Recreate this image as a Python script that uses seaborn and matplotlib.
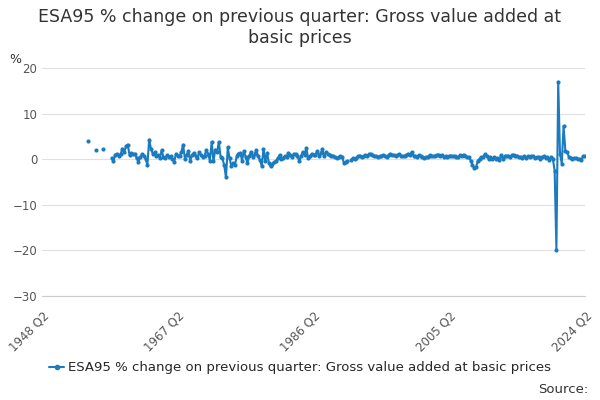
import numpy as np
import pandas as pd
import matplotlib
matplotlib.use('Agg')
import matplotlib.pyplot as plt
import seaborn as sns
from matplotlib.lines import Line2D

nan = np.nan
# Quarterly values from 1948 Q2 to 2024 Q2
early = [nan] * 26 + [4.0] + [nan] * 3 + [2.1] + [nan] * 3 + [2.2] + [nan] * 4
from_1958 = [
    0.3, -0.5, 1.0, 1.2, 0.8, 1.1, 2.3, 1.5, 2.8, 3.2, 0.9, 1.3,
    1.1, 1.2, 0.2, -0.6, 0.4, 1.1, 0.8, 0.1, -1.2, 4.3, 2.3, 1.2,
    1.5, 0.6, 0.9, 0.3, 2.0, 0.4, 0.2, 0.9, 0.5, 0.7, 0.1, -0.6,
    1.2, 0.8, 0.6, 1.6, 3.2, 0.1, 1.0, 1.8, -0.3, 0.9, 1.4, 0.7,
    0.2, 1.5, 1.0, 0.4, 0.8, 2.0, 1.1, -0.3, 3.8, -0.5, 2.1, 1.5,
    3.8, 0.5, 0.2, -1.3,
    -4.0, 2.6, 0.2, -1.5, -0.8, -1.3, 0.6, 1.2, 1.4, -0.3, 1.8, 0.5,
    -0.9, 0.7, 1.6, 0.4, 1.1, 2.0, 0.6, -0.2, -1.5, 2.2, -0.5, 1.4,
    -0.8, -1.6, -1.0, -0.7, -0.4, 0.2, 0.9, 0.1, 0.3, 0.6, 0.5, 1.4,
    1.0, 0.5, 1.2, 1.1, 0.8, -0.4, 0.6, 1.6, 0.9, 2.4, 0.3, 0.6,
    1.2, 0.9, 1.0, 1.7, 0.8, 1.3, 2.2, 0.6, 1.6, 1.1, 1.0, 0.7,
    0.8, 0.4, 0.3, 0.4, 0.7, 0.5, -0.8, -0.6, -0.4, nan, -0.2, 0.2,
    0.1, 0.3, 0.6, 0.8, 0.5, 0.7, 0.9, 0.8, 1.1, 1.2, 0.9, 0.8,
    0.7, 0.5, 0.6, 0.7, 0.9, 0.8, 0.5, 0.9, 1.2, 1.0, 0.9, 0.7,
    0.9, 1.1, 0.8, 0.6, 0.7, 0.9, 1.2, 1.0, 1.6, 0.8, 0.6, 0.5,
    0.9, 0.6, 0.4, 0.3, 0.4, 0.5, 0.9, 0.7, 0.6, 0.8, 1.0, 1.0,
    0.7, 0.9, 0.4, 0.6, 0.5, 0.7, 0.8, 0.6, 0.7, 0.5, 0.4, 0.9,
    0.8, 1.0, 0.7, 0.5, 0.4, -0.3, -1.2, -2.0, -1.8, -0.3, 0.1, 0.4,
    0.5, 1.1, 0.7, 0.1, 0.5, 0.1, 0.4, 0.0, 0.2, -0.2, 0.9, 0.0,
    0.6, 0.6, 0.8, 0.5, 0.9, 1.0, 0.6, 0.8, 0.4, 0.5, 0.3, 0.7,
    0.3, 0.6, 0.5, 0.7, 0.6, 0.3, 0.4, 0.5, 0.1, 0.5, 0.7, 0.2,
    0.5, -0.1, 0.5, 0.1, -2.5, -20.0, 17.0, 1.2, -1.0, 7.3, 1.8, 1.5,
    0.5, 0.3, 0.0, 0.2, 0.3, 0.1, 0.0, -0.2, 0.7, 0.6,
]
values = early + from_1958
tick_labels = ['1948 Q2', '1967 Q2', '1986 Q2', '2005 Q2', '2024 Q2']
series_name = 'ESA95 % change on previous quarter: Gross value added at basic prices'

df = pd.DataFrame({'q': np.arange(len(values)), 'v': values})
df['seg'] = df['v'].isna().cumsum()
df = df.dropna()

color = '#1b7bbf'
sns.set_style('white')
plt.rcParams['font.family'] = ['DejaVu Sans']
fig, ax = plt.subplots(figsize=(6, 4), dpi=100)
sns.lineplot(data=df, x='q', y='v', units='seg', estimator=None, color=color,
             lw=1.5, marker='o', markersize=3, markeredgewidth=0, ax=ax)

ax.set_xlim(0, len(values) - 1)
ax.set_ylim(-30, 20)
ax.set_yticks(range(-30, 21, 10))
ax.set_xticks([0, 76, 152, 228, 304])
ax.set_xticklabels(tick_labels, rotation=45, ha='right', rotation_mode='anchor')
ax.tick_params(axis='x', length=6, color='#cccccc', labelsize=8.5, colors='#555555')
ax.tick_params(axis='y', length=0, labelsize=8.5, colors='#555555')
ax.yaxis.grid(True, color='#e0e0e0', lw=0.8)
for s in ['top', 'right', 'left']:
    ax.spines[s].set_visible(False)
ax.spines['bottom'].set_color('#cccccc')
ax.set_xlabel('')
ax.set_ylabel('')
ax.text(-0.06, 1.02, '%', transform=ax.transAxes, fontsize=9, color='#333333')
fig.suptitle('ESA95 % change on previous quarter: Gross value added at\nbasic prices',
             fontsize=12.5, color='#333333', y=0.98)

h = Line2D([], [], color=color, lw=1.5, marker='o', markersize=3)
fig.legend([h], [series_name], loc='lower center', bbox_to_anchor=(0.5, 0.035),
           frameon=False, fontsize=9.5, handlelength=1.2, handletextpad=0.3)
fig.text(0.98, 0.01, 'Source:', ha='right', va='bottom', fontsize=9.5, color='#333333')
fig.subplots_adjust(left=0.07, right=0.975, top=0.83, bottom=0.26)
fig.savefig('out.png')
